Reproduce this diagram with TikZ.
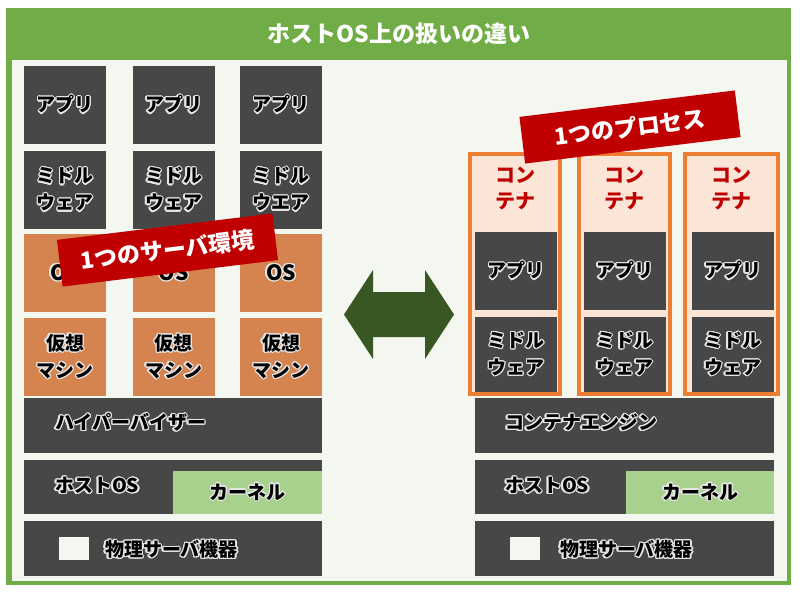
\documentclass[tikz,border=0pt]{standalone}
\usepackage{fontspec}
\setmainfont{Noto Sans CJK JP}
\usepackage{contour}
\contourlength{1.2pt}
\contournumber{16}
\definecolor{frameg}{HTML}{70AD47}
\definecolor{innerbg}{HTML}{F3F7F0}
\definecolor{darkbox}{HTML}{474747}
\definecolor{osbox}{HTML}{D6844F}
\definecolor{kernelg}{HTML}{A9D18E}
\definecolor{contfill}{HTML}{FBE5D6}
\definecolor{contline}{HTML}{ED7D31}
\definecolor{bannerred}{HTML}{C00000}
\definecolor{arrowg}{HTML}{385723}
\definecolor{sqcol}{HTML}{F4F6F2}
\definecolor{glowc}{HTML}{E6E6E6}
\newcommand\gl[1]{\contour{glowc}{#1}}
\begin{document}
\begin{tikzpicture}[x=1pt,y=-1pt,
  every node/.style={inner sep=0pt, outer sep=0pt},
  dbox/.style={fill=darkbox, minimum width=82, minimum height=78, align=center,
    font=\fontsize{19}{27}\selectfont\bfseries, text=black},
  obox/.style={fill=osbox, minimum width=82, minimum height=78, align=center,
    font=\fontsize{19}{27}\selectfont\bfseries, text=black},
  kbox/.style={fill=kernelg, align=center, font=\fontsize{19}{24}\selectfont\bfseries, text=black},
  lbl/.style={anchor=west, font=\fontsize{19}{24}\selectfont\bfseries, text=black},
  sqbox/.style={fill=sqcol, minimum width=30, minimum height=23},
  cont/.style={fill=contfill, draw=contline, line width=4pt, minimum height=240},
  ctext/.style={align=center, font=\fontsize{20}{26}\selectfont\bfseries, text=bannerred},
  banner/.style={fill=bannerred, text=white, minimum width=217, minimum height=47,
    font=\fontsize{23}{26}\selectfont\bfseries, rotate=7},
  titletext/.style={text=white, font=\fontsize{23}{26}\selectfont\bfseries}
]
\useasboundingbox (0,0) rectangle (800,595);
\fill[white] (0,0) rectangle (800,595);
\fill[frameg] (6,8) rectangle (791,585);
\fill[innerbg] (12,60) rectangle (787,581);
\node[titletext] (title) at (399,34) {ホストOS上の扱いの違い};

% left side
\foreach \i/\x/\e in {1/65/ェ,2/173.5/ェ,3/281/エ}{
  \node[dbox] (la\i) at (\x,105) {\gl{アプリ}};
  \node[dbox] (lm\i) at (\x,190) {\gl{ミドル}\\\gl{ウ\e ア}};
  \node[obox, font=\fontsize{21}{27}\selectfont\bfseries] (los\i) at (\x,273) {\gl{OS}};
  \node[obox] (lvm\i) at (\x,357) {\gl{仮想}\\\gl{マシン}};
}
\node[dbox, minimum width=298, minimum height=55] (hyp) at (173,425.5) {};
\node[lbl] (hypt) at (55,423) {\gl{ハイパーバイザー}};
\node[dbox, minimum width=298, minimum height=54] (lhost) at (173,487) {};
\node[lbl] (lhostt) at (55,486) {\gl{ホストOS}};
\node[kbox, minimum width=149, minimum height=43] (lker) at (247.5,492.5) {\gl{カーネル}};
\node[dbox, minimum width=298, minimum height=55] (lphy) at (173,548.5) {};
\node[sqbox] (lsq) at (74,548.5) {};
\node[lbl] (lphyt) at (105,550) {\gl{物理サーバ機器}};

% right side
\foreach \i/\x/\w/\xi in {1/515/90/516,2/624.5/91/624.5,3/731.5/93/732.5}{
  \node[cont, minimum width=\w] (c\i) at (\x,274) {};
  \node[ctext] (ct\i) at (\x,188) {コン\\テナ};
  \node[dbox] (ra\i) at (\xi,271) {\gl{アプリ}};
  \node[dbox, minimum height=75] (rm\i) at (\xi,354.5) {\gl{ミドル}\\\gl{ウェア}};
}
\node[dbox, minimum width=299, minimum height=55] (eng) at (624.5,425.5) {};
\node[lbl] (engt) at (505,423) {\gl{コンテナエンジン}};
\node[dbox, minimum width=299, minimum height=54] (rhost) at (624.5,487) {};
\node[lbl] (rhostt) at (505,486) {\gl{ホストOS}};
\node[kbox, minimum width=148, minimum height=43] (rker) at (700,492.5) {\gl{カーネル}};
\node[dbox, minimum width=299, minimum height=55] (rphy) at (624.5,548.5) {};
\node[sqbox] (rsq) at (525,548.5) {};
\node[lbl] (rphyt) at (560,550) {\gl{物理サーバ機器}};

% double arrow
\fill[arrowg] (344,314.5) -- (373,270) -- (373,292) -- (425,292) -- (425,270) -- (454,314.5)
  -- (425,359) -- (425,337) -- (373,337) -- (373,359) -- cycle;

% banners
\node[banner] (b1) at (167.5,250) {1つのサーバ環境};
\node[banner] (b2) at (630,127) {1つのプロセス};
\end{tikzpicture}
\end{document}
